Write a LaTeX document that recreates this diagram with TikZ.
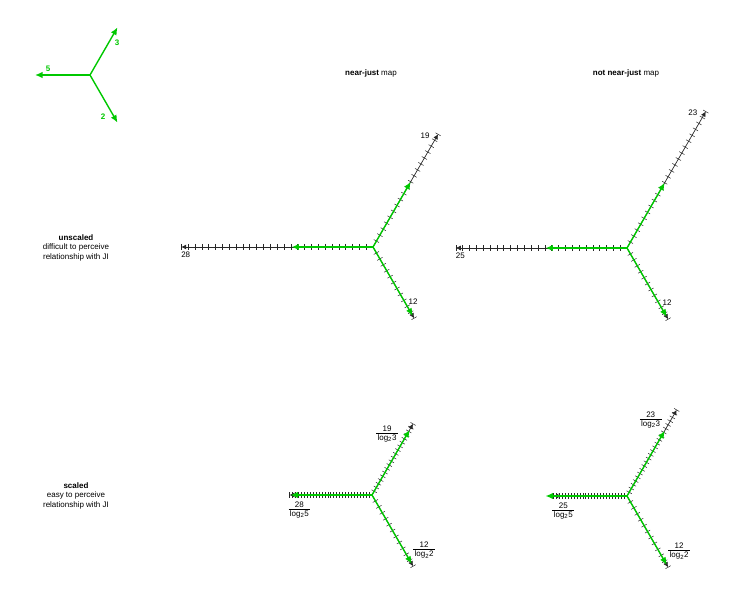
\documentclass[tikz,border=0pt]{standalone}
\usepackage{fontspec}
\setmainfont{Liberation Sans}
\usepackage{xcolor}
\usepackage{tikz}
\usetikzlibrary{arrows.meta,calc}
\definecolor{jigreen}{RGB}{0, 200, 0}
\definecolor{axisgray}{RGB}{40, 40, 40}

% fraction label: steps over log2 of the prime
\newcommand{\ratio}[2]{\begin{tabular}{@{\,}c@{\,}}#1\\[-1pt]\hline\rule{0pt}{7pt}log\textsubscript{2}#2\end{tabular}}

\tikzset{
  axisline/.style={draw=axisgray, line width=0.7pt, -{Latex[length=5pt,width=5pt]}},
  tickmark/.style={draw=axisgray, line width=0.5pt},
  jiarrow/.style={draw=jigreen, line width=1.4pt, -{Latex[length=7.5pt,width=6.5pt]}},
  lbl/.style={font=\fontsize{8}{9.5}\selectfont, inner sep=0pt},
}

% axis with ticks: centre, angle, steps, step length, name of end
\newcommand{\mapaxis}[5]{%
  \coordinate (#5) at ($(#1)+(#2:#3*#4)$);
  \draw[axisline] (#1) -- (#5);
  \foreach \k in {1,...,#3} {
    \draw[tickmark] ($(#1)+(#2:\k*#4)$) ++(#2+90:3) -- ++(#2-90:6);
  }
}

\begin{document}
\begin{tikzpicture}[x=1pt, y=-1pt]
    \useasboundingbox (0,0) rectangle (737,599);

    % Legend: prime directions
    \coordinate (L) at (90,75);
    \coordinate (L5) at ($(L)+(180:55)$);
    \coordinate (L3) at ($(L)+(-60:55)$);
    \coordinate (L2) at ($(L)+(60:55)$);
    \foreach \p in {5,3,2} {
      \draw[jiarrow] (L) -- (L\p);
    }
    \node[lbl, text=jigreen, font=\fontsize{8}{9.5}\selectfont\bfseries] (l5) at (48,69) {5};
    \node[lbl, text=jigreen, font=\fontsize{8}{9.5}\selectfont\bfseries] (l3) at (117,43) {3};
    \node[lbl, text=jigreen, font=\fontsize{8}{9.5}\selectfont\bfseries] (l2) at (103,117) {2};

    % Label: column titles
    \node[lbl] (tnj) at (371,73) {\textbf{near-just} map};
    \node[lbl] (tnn) at (626,73) {\textbf{not near-just} map};

    % Label: row titles
    \node[lbl, align=center] (tun) at (76,247.5) {\textbf{unscaled}\\difficult to perceive\\relationship with JI};
    \node[lbl, align=center] (tsc) at (76,495.5) {\textbf{scaled}\\easy to perceive\\relationship with JI};

    % maps: name / centre / steps of 5 / steps of 3 / scaled?
    \foreach \m/\cx/\cy/\nf/\nt/\sc in {A/373/247/28/19/0, B/627/248/25/23/0,
                                        C/372/495/28/19/1, D/627/496/25/23/1} {
      \coordinate (\m) at (\cx,\cy);
      \ifnum\sc=0
        \def\stepf{6.85}\def\stept{6.85}
      \else
        \pgfmathsetmacro{\stepf}{6.85*ln(2)/ln(5)}
        \pgfmathsetmacro{\stept}{6.85*ln(2)/ln(3)}
      \fi
      % black axes with ticks
      \mapaxis{\m}{180}{\nf}{\stepf}{\m5}
      \mapaxis{\m}{-60}{\nt}{\stept}{\m3}
      \mapaxis{\m}{60}{12}{6.85}{\m2}
      % green JI arrows
      \coordinate (\m g5) at ($(\m)+(180:11.9*6.85)$);
      \coordinate (\m g3) at ($(\m)+(-60:11.0*6.85)$);
      \coordinate (\m g2) at ($(\m)+(60:11.6*6.85)$);
      \foreach \p in {5,3,2} {
        \draw[jiarrow] (\m) -- (\m g\p);
      }
      % end labels
      \ifnum\sc=0
        \node[lbl] (\m-l5) at ($(\m5)+(4.5,8)$) {\nf};
        \node[lbl] (\m-l3) at ($(\m3)+(-13,1)$) {\nt};
        \node[lbl] (\m-l2) at ($(\m2)+(-1,-16.5)$) {12};
      \else
        \node[lbl] (\m-l5) at ($(\m5)+(10,15)$) {\ratio{\nf}{5}};
        \node[lbl] (\m-l3) at ($(\m3)+(-26,10)$) {\ratio{\nt}{3}};
        \node[lbl] (\m-l2) at ($(\m2)+(11,-16)$) {\ratio{12}{2}};
      \fi
    }
\end{tikzpicture}
\end{document}
